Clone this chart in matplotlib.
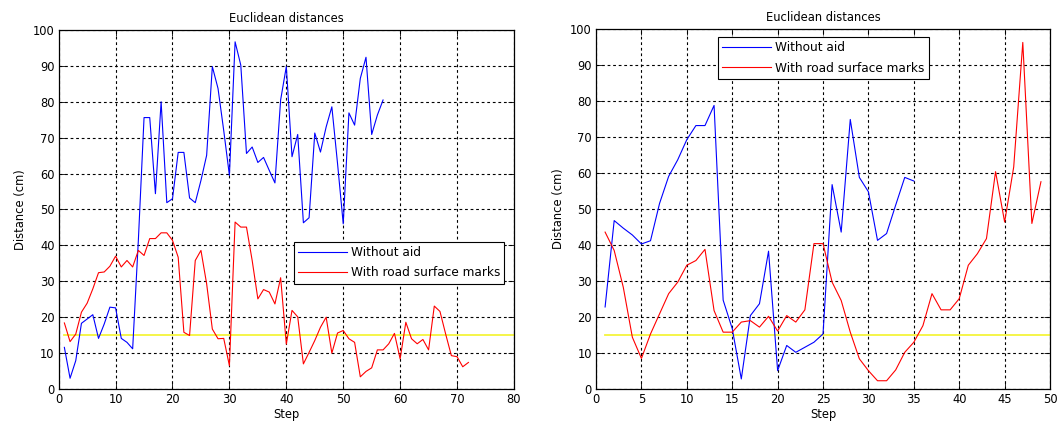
import matplotlib
matplotlib.use("Agg")
import matplotlib.pyplot as plt

# ---- Left panel data ----
left_blue = [11.6, 3.0, 7.9, 18.3, 19.5, 20.7, 14.1, 18.1, 22.8, 22.6,
             14.1, 13.0, 11.2, 41.4, 75.6, 75.6, 54.4, 80.0, 51.9, 53.0,
             65.9, 65.9, 53.2, 51.9, 58.1, 65.1, 89.8, 83.7, 72.0, 59.5,
             96.7, 90.2, 65.6, 67.4, 63.1, 64.5, 60.9, 57.4, 80.5, 89.8,
             64.7, 70.9, 46.3, 47.7, 71.3, 66.0, 73.0, 78.6, 62.8, 46.0,
             76.9, 73.5, 86.5, 92.4, 70.9, 76.3, 80.5]
left_red = [18.4, 13.2, 15.3, 21.4, 23.9, 27.9, 32.4, 32.6, 34.2, 37.0,
            34.0, 35.8, 34.0, 38.6, 37.2, 41.9, 41.9, 43.5, 43.5, 41.4,
            36.7, 15.8, 14.9, 35.8, 38.6, 29.3, 16.7, 14.0, 14.1, 6.5,
            46.5, 45.1, 45.1, 35.8, 25.1, 27.7, 27.0, 23.7, 31.0, 12.5,
            21.9, 20.1, 7.0, 10.2, 13.5, 17.2, 20.0, 10.0, 15.6, 16.3,
            14.0, 13.0, 3.4, 4.9, 5.9, 10.9, 10.9, 12.6, 15.5, 8.4,
            18.6, 14.0, 12.6, 13.8, 10.9, 23.1, 21.6, 15.3, 9.3, 9.0,
            6.2, 7.4]

# ---- Right panel data ----
right_blue = [22.8, 46.8, 44.7, 42.8, 40.3, 41.2, 51.6, 59.1, 63.7, 69.3,
              73.2, 73.2, 78.8, 24.7, 16.8, 2.8, 20.4, 23.7, 38.3, 5.1,
              12.1, 10.2, 11.6, 13.0, 15.3, 56.8, 43.6, 74.9, 58.8, 54.8,
              41.3, 43.2, 51.1, 58.8, 57.8]
right_red = [43.6, 38.5, 28.3, 14.4, 8.5, 15.3, 20.9, 26.5, 29.7, 34.4,
             35.7, 38.8, 21.8, 15.8, 15.8, 18.6, 19.0, 17.2, 20.2, 16.1,
             20.4, 18.6, 22.0, 40.4, 40.4, 29.7, 24.6, 15.8, 8.4, 5.1,
             2.3, 2.3, 5.3, 10.2, 13.0, 17.6, 26.5, 22.0, 22.0, 25.1,
             34.4, 37.6, 41.8, 60.4, 46.4, 61.7, 96.3, 46.0, 57.6]

threshold = 15
title = "Euclidean distances"
xlabel = "Step"
ylabel = "Distance (cm)"
labels = ["Without aid", "With road surface marks"]

plt.rcParams['font.family'] = ['DejaVu Sans']
fig = plt.figure(figsize=(10.63, 4.30), dpi=100)

def panel(rect, blue, red, xmax, xticks, legend_bbox):
    ax = fig.add_axes(rect)
    xb = list(range(1, len(blue) + 1))
    xr = list(range(1, len(red) + 1))
    ax.plot([1, xmax], [threshold, threshold], color='#f5f53a', lw=1.3, zorder=2)
    lb, = ax.plot(xb, blue, color='blue', lw=0.8, zorder=3)
    lr, = ax.plot(xr, red, color='red', lw=0.8, zorder=3)
    ax.set_xlim(0, xmax)
    ax.set_ylim(0, 100)
    ax.set_xticks(xticks)
    ax.set_yticks(range(0, 101, 10))
    ax.grid(True, color='black', linestyle=(0, (2.5, 2.5)), lw=0.8)
    ax.tick_params(direction='in', top=True, right=True, labelsize=8.3,
                   length=4, width=0.6, pad=3)
    for s in ax.spines.values():
        s.set_linewidth(0.9)
    ax.set_title(title, fontsize=8.3, pad=6)
    ax.set_xlabel(xlabel, fontsize=8.3, labelpad=1)
    ax.set_ylabel(ylabel, fontsize=8.3, labelpad=4)
    leg = ax.legend([lb, lr], labels, loc='upper left', bbox_to_anchor=legend_bbox,
                    fontsize=8.7, fancybox=False, framealpha=1, edgecolor='black',
                    handlelength=4.0, borderpad=0.35, labelspacing=0.6,
                    handletextpad=0.35, borderaxespad=0)
    leg.get_frame().set_linewidth(0.8)
    return ax

panel([0.0552, 0.0953, 0.4283, 0.835], left_blue, left_red, 80,
      range(0, 81, 10), (0.517, 0.41))
panel([0.5607, 0.0953, 0.4271, 0.837], right_blue, right_red, 50,
      range(0, 51, 5), (0.269, 0.978))

fig.savefig("out.png", dpi=100)
